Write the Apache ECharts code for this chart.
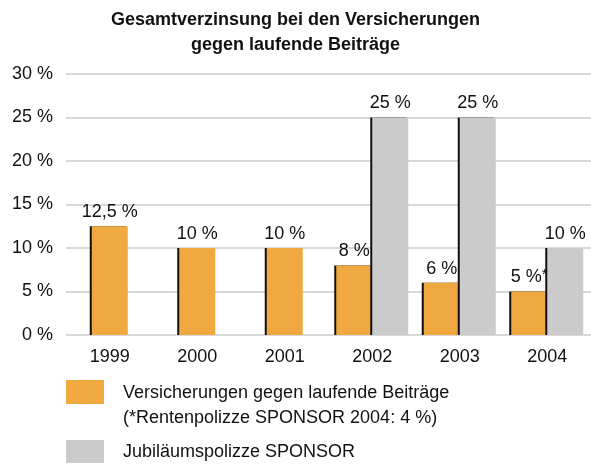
<!DOCTYPE html>
<html>
<head>
<meta charset="utf-8">
<script src="https://cdn.jsdelivr.net/npm/echarts@6/dist/echarts.min.js"></script>
<style>
html, body { margin: 0; padding: 0; background: #fff; }
#main { width: 591px; height: 466px; }
</style>
</head>
<body>
<div id="main"></div>
<script>
var jahre = ['1999', '2000', '2001', '2002', '2003', '2004'];
var versicherungen = [12.5, 10, 10, 8, 6, 5];
var jubilaeum = [null, null, null, 25, 25, 10];
var fussnote = ['', '', '', '', '', '*'];
var yTicks = [0, 5, 10, 15, 20, 25, 30];

var nameOrange = 'Versicherungen gegen laufende Beiträge';
var nameGrau = 'Jubiläumspolizze SPONSOR';
var orange = '#f0a941';
var grau = '#cbcbcb';
var font = '"Liberation Sans", Arial, Helvetica, sans-serif';

function fmt(v) {
	return String(v).replace('.', ',') + ' %';
}

// einzelne Balken (ohne Jubiläumspolizze) mittig, sonst paarweise
var einzeln = [], paarOrange = [], paarGrau = [];
for (var i = 0; i < jahre.length; i++) {
	if (jubilaeum[i] == null) {
		einzeln.push(versicherungen[i]);
		paarOrange.push('-');
		paarGrau.push('-');
	} else {
		einzeln.push('-');
		paarOrange.push(versicherungen[i]);
		paarGrau.push(jubilaeum[i]);
	}
}

var barLabel = {
	show: true,
	position: 'top',
	distance: 4,
	color: '#111',
	fontFamily: font,
	fontSize: 18,
	formatter: function (p) {
		var f = fussnote[p.dataIndex];
		if (p.seriesName === nameGrau || !f) return '{a|' + fmt(p.value) + '}';
		return '{a|' + fmt(p.value) + '}{s|' + f + '}';
	},
	rich: {
		a: { fontFamily: font, fontSize: 18, color: '#111', lineHeight: 20 },
		s: { fontFamily: font, fontSize: 15, color: '#111', verticalAlign: 'top', lineHeight: 14 }
	}
};

var kante = { shadowColor: '#111', shadowBlur: 0, shadowOffsetX: -2, shadowOffsetY: 0 };

var myChart = echarts.init(document.getElementById('main'));
var option = {
	animation: false,
	backgroundColor: '#fff',
	title: {
		text: 'Gesamtverzinsung bei den Versicherungen\ngegen laufende Beiträge',
		left: 'center',
		top: 3,
		textStyle: { fontFamily: font, fontSize: 18, fontWeight: 'bold', color: '#111', lineHeight: 25 }
	},
	grid: { left: 66, right: -3, top: 74, bottom: 131 },
	xAxis: [
		{
			type: 'category',
			data: jahre,
			axisLine: { show: false },
			axisTick: { show: false },
			axisLabel: { color: '#111', fontFamily: font, fontSize: 18, margin: 13 }
		},
		{
			type: 'category',
			data: jahre,
			show: false
		}
	],
	yAxis: {
		type: 'value',
		min: yTicks[0],
		max: yTicks[yTicks.length - 1],
		interval: 5,
		axisLine: { show: false },
		axisTick: { show: false },
		axisLabel: { color: '#111', fontFamily: font, fontSize: 18, margin: 13, formatter: '{value} %' },
		splitLine: { lineStyle: { color: '#d9d9d9', width: 2 } }
	},
	series: [
		{
			name: nameOrange,
			type: 'bar',
			xAxisIndex: 0,
			barWidth: 36,
			data: einzeln,
			itemStyle: Object.assign({ color: orange }, kante),
			label: barLabel
		},
		{
			name: nameOrange,
			type: 'bar',
			xAxisIndex: 1,
			barWidth: 36,
			barGap: 0,
			data: paarOrange,
			itemStyle: Object.assign({ color: orange }, kante),
			label: barLabel
		},
		{
			name: nameGrau,
			type: 'bar',
			xAxisIndex: 1,
			barWidth: 36,
			barGap: 0,
			data: paarGrau,
			itemStyle: Object.assign({ color: grau }, kante),
			label: barLabel
		}
	],
	graphic: [
		{ type: 'rect', left: 66, top: 380, shape: { width: 38, height: 24 }, style: { fill: orange } },
		{ type: 'text', left: 123, top: 381, style: { text: nameOrange + '\n(*Rentenpolizze SPONSOR 2004: 4 %)', fill: '#111', font: '18px ' + font, lineHeight: 25 } },
		{ type: 'rect', left: 66, top: 440, shape: { width: 38, height: 23 }, style: { fill: grau } },
		{ type: 'text', left: 123, top: 441, style: { text: nameGrau, fill: '#111', font: '18px ' + font, lineHeight: 22 } }
	]
};
myChart.setOption(option);
</script>
</body>
</html>
